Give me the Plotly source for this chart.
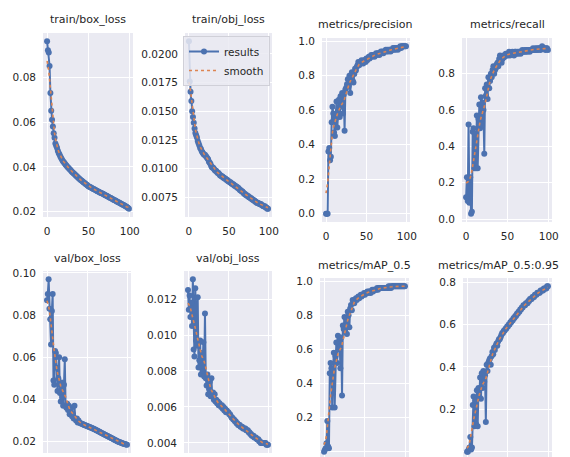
import numpy as np
import plotly.graph_objects as go

# The page body keeps an 8px margin, so the figure starts 8px in from the
# top-left corner; it is sized to end at the window's edges.
PAGE_W, PAGE_H = 570, 457
OFF = 8
W, H = PAGE_W - OFF, PAGE_H - OFF
epochs = list(range(100))

titles = ["train/box_loss", "train/obj_loss", "metrics/precision", "metrics/recall",
          "val/box_loss", "val/obj_loss", "metrics/mAP_0.5", "metrics/mAP_0.5:0.95"]

train_box_loss = [
    0.096, 0.092, 0.091, 0.085, 0.073, 0.065, 0.061, 0.058, 0.055, 0.053,
    0.0505, 0.0495, 0.0485, 0.0472, 0.0462, 0.0455, 0.0447, 0.0440, 0.0433, 0.0427,
    0.0422, 0.0417, 0.0412, 0.0407, 0.0403, 0.0399, 0.0395, 0.0391, 0.0387, 0.0383,
    0.0379, 0.0375, 0.0372, 0.0368, 0.0365, 0.0361, 0.0358, 0.0354, 0.0351, 0.0347,
    0.0344, 0.0341, 0.0338, 0.0335, 0.0332, 0.0329, 0.0326, 0.0323, 0.0320, 0.0317,
    0.0314, 0.0312, 0.0310, 0.0308, 0.0306, 0.0304, 0.0302, 0.0300, 0.0298, 0.0296,
    0.0294, 0.0292, 0.0290, 0.0288, 0.0286, 0.0284, 0.0283, 0.0281, 0.0279, 0.0277,
    0.0275, 0.0273, 0.0271, 0.0269, 0.0267, 0.0265, 0.0263, 0.0261, 0.0259, 0.0257,
    0.0255, 0.0253, 0.0251, 0.0249, 0.0247, 0.0245, 0.0243, 0.0241, 0.0239, 0.0237,
    0.0235, 0.0233, 0.0231, 0.0229, 0.0227, 0.0225, 0.0222, 0.0220, 0.0217, 0.0214]

train_obj_loss = [
    0.0211, 0.0176, 0.0167, 0.0159, 0.0150, 0.0145, 0.0140, 0.0135, 0.0131, 0.0129,
    0.0127, 0.0124, 0.0122, 0.0120, 0.0118, 0.0117, 0.0115, 0.0114, 0.0113, 0.0112,
    0.0112, 0.0111, 0.0110, 0.0109, 0.0108, 0.0106, 0.0105, 0.0104, 0.0102, 0.0101,
    0.0101, 0.0100, 0.0099, 0.0098, 0.0098, 0.0097, 0.0096, 0.0096, 0.0095, 0.0094,
    0.0094, 0.0093, 0.0093, 0.0092, 0.0092, 0.0091, 0.0091, 0.0090, 0.0090, 0.0089,
    0.0089, 0.0088, 0.0088, 0.0087, 0.0087, 0.0086, 0.0086, 0.0085, 0.0085, 0.0084,
    0.0084, 0.0083, 0.0083, 0.0082, 0.0081, 0.0081, 0.0080, 0.0080, 0.0079, 0.0078,
    0.0078, 0.0077, 0.0077, 0.0076, 0.0076, 0.0075, 0.0075, 0.0074, 0.0074, 0.0073,
    0.0073, 0.0072, 0.0072, 0.0071, 0.0071, 0.0070, 0.0070, 0.0070, 0.0069, 0.0069,
    0.0069, 0.0068, 0.0068, 0.0067, 0.0067, 0.0067, 0.0066, 0.0066, 0.0065, 0.0065]

precision = [
    0.0, 0.0, 0.0, 0.36, 0.38, 0.31, 0.33, 0.53, 0.62, 0.58,
    0.47, 0.45, 0.55, 0.65, 0.50, 0.60, 0.66, 0.56, 0.68, 0.62,
    0.70, 0.58, 0.69, 0.48, 0.72, 0.73, 0.75, 0.78, 0.74, 0.80,
    0.70, 0.79, 0.82, 0.77, 0.76, 0.81, 0.84, 0.83, 0.85, 0.86,
    0.88, 0.86, 0.88, 0.87, 0.89, 0.88, 0.87, 0.89, 0.89, 0.88,
    0.90, 0.89, 0.90, 0.91, 0.90, 0.91, 0.92, 0.91, 0.92, 0.92,
    0.91, 0.92, 0.93, 0.92, 0.93, 0.93, 0.92, 0.93, 0.94, 0.93,
    0.94, 0.93, 0.94, 0.94, 0.95, 0.94, 0.95, 0.94, 0.95, 0.95,
    0.94, 0.95, 0.95, 0.96, 0.95, 0.96, 0.95, 0.96, 0.96, 0.95,
    0.96, 0.96, 0.97, 0.96, 0.97, 0.97, 0.97, 0.97, 0.97, 0.97]

recall = [
    0.12, 0.23, 0.10, 0.52, 0.09, 0.23, 0.03, 0.04, 0.48, 0.50,
    0.28, 0.47, 0.28, 0.57, 0.28, 0.55, 0.63, 0.50, 0.67, 0.52,
    0.64, 0.60, 0.36, 0.72, 0.68, 0.74, 0.66, 0.78, 0.72, 0.76,
    0.80, 0.78, 0.82, 0.84, 0.80, 0.82, 0.83, 0.85, 0.86, 0.84,
    0.88, 0.90, 0.89, 0.86, 0.88, 0.90, 0.89, 0.90, 0.91, 0.90,
    0.90, 0.91, 0.92, 0.90, 0.91, 0.91, 0.92, 0.91, 0.90, 0.92,
    0.92, 0.91, 0.92, 0.91, 0.92, 0.92, 0.91, 0.92, 0.93, 0.92,
    0.92, 0.93, 0.92, 0.93, 0.92, 0.93, 0.93, 0.92, 0.93, 0.93,
    0.93, 0.94, 0.93, 0.93, 0.94, 0.93, 0.94, 0.93, 0.94, 0.94,
    0.93, 0.94, 0.95, 0.94, 0.94, 0.94, 0.93, 0.94, 0.94, 0.93]

val_box_loss = [
    0.087, 0.090, 0.097, 0.083, 0.078, 0.066, 0.082, 0.090, 0.049, 0.047,
    0.063, 0.062, 0.055, 0.044, 0.050, 0.060, 0.043, 0.039, 0.048, 0.041,
    0.037, 0.047, 0.059, 0.037, 0.036, 0.038, 0.035, 0.037, 0.033, 0.034,
    0.036, 0.032, 0.033, 0.031, 0.037, 0.031, 0.030, 0.031, 0.029, 0.030,
    0.0290, 0.0288, 0.0286, 0.0284, 0.0283, 0.0281, 0.0279, 0.0278, 0.0276, 0.0275,
    0.0273, 0.0272, 0.0270, 0.0268, 0.0267, 0.0265, 0.0263, 0.0262, 0.0260, 0.0258,
    0.0256, 0.0254, 0.0252, 0.0250, 0.0248, 0.0246, 0.0244, 0.0242, 0.0240, 0.0238,
    0.0236, 0.0234, 0.0232, 0.0230, 0.0228, 0.0226, 0.0224, 0.0222, 0.0220, 0.0218,
    0.0216, 0.0214, 0.0212, 0.0210, 0.0208, 0.0206, 0.0204, 0.0202, 0.0200, 0.0198,
    0.0197, 0.0195, 0.0194, 0.0192, 0.0191, 0.0190, 0.0188, 0.0187, 0.0186, 0.0185]

val_obj_loss = [
    0.0125, 0.0114, 0.0122, 0.0110, 0.0118, 0.0105, 0.0131, 0.0092, 0.0088, 0.0126,
    0.0097, 0.0094, 0.0121, 0.0082, 0.0086, 0.0097, 0.0078, 0.0090, 0.0080, 0.0096,
    0.0077, 0.0112, 0.0076, 0.0072, 0.0078, 0.0067, 0.0070, 0.0074, 0.0066, 0.0076,
    0.0066, 0.0068, 0.0064, 0.0067, 0.0063, 0.0064, 0.0062, 0.0063, 0.0061, 0.0062,
    0.0061, 0.0060, 0.0061, 0.0059, 0.0060, 0.0058, 0.0059, 0.0057, 0.0058, 0.0057,
    0.0057, 0.0056, 0.0056, 0.0055, 0.0054, 0.0054, 0.0053, 0.0053, 0.0052, 0.0052,
    0.0051, 0.0051, 0.0050, 0.0050, 0.0050, 0.0049, 0.0049, 0.0049, 0.0048, 0.0048,
    0.0048, 0.0048, 0.0047, 0.0047, 0.0047, 0.0046, 0.0046, 0.0045, 0.0045, 0.0044,
    0.0044, 0.0044, 0.0043, 0.0043, 0.0043, 0.0042, 0.0042, 0.0042, 0.0041, 0.0041,
    0.0040, 0.0040, 0.0040, 0.0040, 0.0040, 0.0040, 0.0040, 0.0039, 0.0039, 0.0039]

map50 = [
    0.00, 0.01, 0.02, 0.05, 0.18, 0.03, 0.02, 0.46, 0.52, 0.49,
    0.26, 0.48, 0.58, 0.26, 0.56, 0.64, 0.52, 0.68, 0.60, 0.66,
    0.49, 0.67, 0.33, 0.74, 0.72, 0.79, 0.70, 0.78, 0.69, 0.82,
    0.80, 0.73, 0.84, 0.86, 0.83, 0.89, 0.88, 0.87, 0.89, 0.90,
    0.89, 0.90, 0.91, 0.90, 0.91, 0.92, 0.91, 0.92, 0.92, 0.93,
    0.92, 0.93, 0.93, 0.94, 0.93, 0.94, 0.94, 0.93, 0.94, 0.95,
    0.94, 0.95, 0.95, 0.95, 0.95, 0.96, 0.95, 0.96, 0.96, 0.96,
    0.96, 0.96, 0.96, 0.96, 0.96, 0.96, 0.96, 0.96, 0.96, 0.97,
    0.96, 0.97, 0.96, 0.97, 0.97, 0.97, 0.97, 0.97, 0.97, 0.97,
    0.97, 0.97, 0.97, 0.97, 0.97, 0.97, 0.97, 0.97, 0.97, 0.97]

map50_95 = [
    0.00, 0.00, 0.01, 0.02, 0.07, 0.01, 0.02, 0.22, 0.26, 0.12,
    0.24, 0.13, 0.29, 0.12, 0.30, 0.26, 0.35, 0.25, 0.37, 0.30,
    0.38, 0.33, 0.36, 0.14, 0.41, 0.38, 0.42, 0.43, 0.44, 0.41,
    0.45, 0.47, 0.46, 0.49, 0.48, 0.50, 0.51, 0.50, 0.52, 0.53,
    0.53, 0.54, 0.55, 0.56, 0.56, 0.57, 0.57, 0.58, 0.58, 0.59,
    0.59, 0.60, 0.60, 0.61, 0.61, 0.62, 0.62, 0.63, 0.63, 0.64,
    0.64, 0.65, 0.65, 0.66, 0.66, 0.67, 0.67, 0.68, 0.68, 0.69,
    0.69, 0.69, 0.70, 0.70, 0.70, 0.71, 0.71, 0.72, 0.72, 0.72,
    0.73, 0.73, 0.73, 0.74, 0.74, 0.74, 0.75, 0.75, 0.75, 0.75,
    0.76, 0.76, 0.76, 0.76, 0.77, 0.77, 0.77, 0.77, 0.78, 0.78]

series = [train_box_loss, train_obj_loss, precision, recall,
          val_box_loss, val_obj_loss, map50, map50_95]

y_ticks = [
    [0.02, 0.04, 0.06, 0.08],
    [0.0075, 0.0100, 0.0125, 0.0150, 0.0175, 0.0200],
    [0.0, 0.2, 0.4, 0.6, 0.8, 1.0],
    [0.0, 0.2, 0.4, 0.6, 0.8],
    [0.02, 0.04, 0.06, 0.08, 0.10],
    [0.004, 0.006, 0.008, 0.010, 0.012],
    [0.0, 0.2, 0.4, 0.6, 0.8, 1.0],
    [0.0, 0.2, 0.4, 0.6, 0.8],
]
y_labels = [
    ["0.02", "0.04", "0.06", "0.08"],
    ["0.0075", "0.0100", "0.0125", "0.0150", "0.0175", "0.0200"],
    ["0.0", "0.2", "0.4", "0.6", "0.8", "1.0"],
    ["0.0", "0.2", "0.4", "0.6", "0.8"],
    ["0.02", "0.04", "0.06", "0.08", "0.10"],
    ["0.004", "0.006", "0.008", "0.010", "0.012"],
    ["0.0", "0.2", "0.4", "0.6", "0.8", "1.0"],
    ["0.0", "0.2", "0.4", "0.6", "0.8"],
]
x_ticks = [0, 50, 100]
x_labels = ["0", "50", "100"]

# panel pixel boxes on the page: left, right, top, bottom (bottom may extend past the page)
boxes = [(43, 133, 33, 217), (185, 272, 33, 217), (322, 410, 38, 222), (462, 552, 38, 222),
         (43, 131, 271, 453), (184, 272, 271, 453), (320, 409, 278, 460), (463, 552, 278, 460)]


def gauss_smooth(y, sigma=3.0):
    y = np.asarray(y, float)
    r = int(4 * sigma + 0.5)
    k = np.exp(-0.5 * (np.arange(-r, r + 1) / sigma) ** 2)
    k /= k.sum()
    yp = np.pad(y, r, mode="symmetric")
    return np.convolve(yp, k, mode="valid")


BLUE = "#4C72B0"
ORANGE = "#DD8452"
FONT = "DejaVu Sans, sans-serif"
TXT = "#262626"

fig = go.Figure()
layout = {}
annotations = []
for i, (ys, box) in enumerate(zip(series, boxes)):
    l, r, t, b = [v - OFF for v in box]
    n = i + 1
    sfx = "" if n == 1 else str(n)
    xa, ya = "x" + sfx, "y" + sfx
    fig.add_trace(go.Scatter(x=epochs, y=ys, mode="lines+markers", name="results",
                             line=dict(color=BLUE, width=2), marker=dict(color=BLUE, size=6),
                             xaxis=xa, yaxis=ya, showlegend=(n == 2)))
    fig.add_trace(go.Scatter(x=epochs, y=gauss_smooth(ys), mode="lines", name="smooth",
                             line=dict(color=ORANGE, width=1.6, dash="dot"),
                             xaxis=xa, yaxis=ya, showlegend=(n == 2)))
    lo, hi = min(ys), max(ys)
    span = hi - lo
    rlo, rhi = lo - 0.05 * span, hi + 0.05 * span
    bb = b
    if b > H:
        rlo = rhi - (H - t) / (b - t) * (rhi - rlo)
        bb = H
    # the bottom row's x tick labels fall below the visible page in the reference
    layout["xaxis" + sfx] = dict(domain=[l / W, r / W], anchor=ya, range=[-4.95, 103.95],
                                 tickvals=x_ticks, ticktext=x_labels, showgrid=True,
                                 showticklabels=(n <= 4),
                                 gridcolor="white", gridwidth=1, zeroline=False,
                                 showline=False, ticks="", ticklabelstandoff=6,
                                 automargin=False,
                                 tickfont=dict(size=10.5, color=TXT, family=FONT))
    layout["yaxis" + sfx] = dict(domain=[1 - bb / H, 1 - t / H], anchor=xa, range=[rlo, rhi],
                                 tickvals=y_ticks[i], ticktext=y_labels[i], showgrid=True,
                                 gridcolor="white", gridwidth=1, zeroline=False,
                                 showline=False, ticks="", ticklabelstandoff=6,
                                 automargin=False,
                                 tickfont=dict(size=10.5, color=TXT, family=FONT))
    if n == 8:
        tx, anchor = (561 - OFF) / W, "right"
    else:
        tx, anchor = (l + r) / 2 / W, "center"
    annotations.append(dict(text=titles[i], x=tx, y=1 - (t - 13) / H,
                            xref="paper", yref="paper", xanchor=anchor, yanchor="middle",
                            showarrow=False, font=dict(size=11, color=TXT, family=FONT)))

fig.update_layout(**layout)
fig.update_layout(
    width=W, height=H, margin=dict(l=0, r=0, t=0, b=0, autoexpand=False),
    paper_bgcolor="white", plot_bgcolor="#EAEAF2",
    annotations=annotations,
    font=dict(family=FONT, color=TXT),
    legend=dict(x=(270 - OFF) / W, y=1 - (36 - OFF) / H, xanchor="right", yanchor="top",
                bgcolor="rgba(234,234,242,0.85)", bordercolor="#d0d0d8", borderwidth=1,
                font=dict(size=10.5, color=TXT, family=FONT), itemwidth=30,
                tracegroupgap=0),
)
fig.write_html("out.html")
